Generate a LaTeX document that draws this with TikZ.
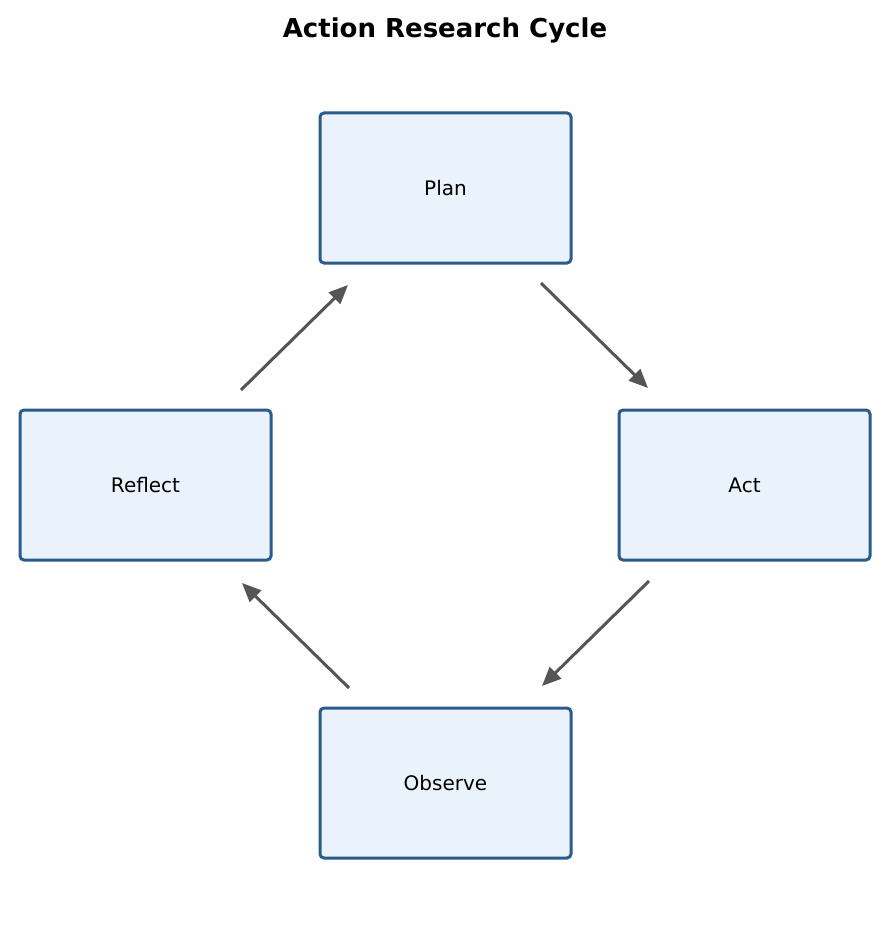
\documentclass[tikz,border=0pt]{standalone}
\usepackage{fontspec}
\setmainfont{DejaVu Sans}
\usepackage{tikz}
\usetikzlibrary{arrows.meta,positioning}
\definecolor{boxline}{HTML}{2B5B8A}
\definecolor{boxfill}{HTML}{EAF2FB}
\definecolor{arrowgray}{HTML}{555555}
\tikzset{
    stage/.style={
    rectangle,rounded corners=4pt,draw=boxline,fill=boxfill,line width=3pt,
    minimum width=251pt,minimum height=150pt,inner sep=0pt,outer sep=0pt,
    font=\fontsize{20}{24}\selectfont
    },
    cycle/.style={
    draw=arrowgray,line width=3pt,-{Triangle[length=19pt,width=16pt]}
    },
}
\begin{document}
\begin{tikzpicture}[x=1pt,y=-1pt]
  \useasboundingbox (0,0) rectangle (890,928);
  \node[font=\fontsize{26}{30}\selectfont\bfseries] (title) at (445,30) {Action Research Cycle};

  \node[stage] (plan) at (445.5,188) {Plan};
  \node[stage] (act) at (744.5,485) {Act};
  \node[stage] (observe) at (445.5,783) {Observe};
  \node[stage] (reflect) at (145.5,485) {Reflect};

  % arrow ends, kept clear of the boxes
  \coordinate (planout) at (541,283);
  \coordinate (actin) at (648,388);
  \coordinate (actout) at (649,581);
  \coordinate (observein) at (542,686);
  \coordinate (observeout) at (349,688);
  \coordinate (reflectin) at (242,583);
  \coordinate (reflectout) at (241,390);
  \coordinate (planin) at (348,285);

  \path
    (planout) edge [cycle] (actin)
    (actout) edge [cycle] (observein)
    (observeout) edge [cycle] (reflectin)
    (reflectout) edge [cycle] (planin);

\end{tikzpicture}
\end{document}
